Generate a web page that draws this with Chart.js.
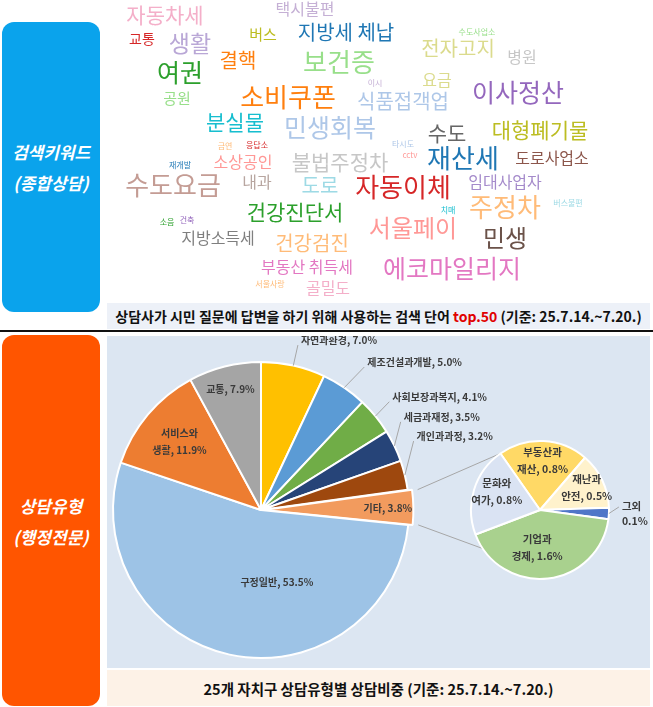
<!DOCTYPE html>
<html>
<head>
<meta charset="utf-8">
<script src="https://cdn.jsdelivr.net/npm/chart.js@4.4.1/dist/chart.umd.min.js"></script>
<style>
html, body { margin: 0; padding: 0; background: #fff; }
body { width: 653px; height: 707px; position: relative; overflow: hidden; font-family: "Noto Sans CJK KR", "Noto Sans", sans-serif; }
.side { position: absolute; left: 2px; width: 98px; border-radius: 12px; color: #fff; display: flex; flex-direction: column; align-items: center; justify-content: center; font-weight: 700; font-style: italic; font-size: 17px; line-height: 31px; }
#sideTop { top: 22px; height: 290px; background: #0AA3EC; }
#sideBottom { top: 335px; height: 371px; background: #FF5500; }
#cloudBox { position: absolute; left: 107px; top: 0; width: 543px; height: 300px; }
.cap { position: absolute; left: 107px; width: 543px; display: flex; align-items: center; justify-content: center; font-weight: 700; color: #111; white-space: nowrap; }
#cap1 { top: 303px; height: 26px; background: #EDF1F8; font-size: 14px; }
#cap1 .red { color: #E00000; }
#rule { position: absolute; left: 0; top: 330px; width: 653px; height: 2px; background: #111; }
#pieBox { position: absolute; left: 107px; top: 336px; width: 543px; height: 332px; background: #DCE6F2; }
#pieBox canvas { position: absolute; }
#mainPie { left: 0; top: 0; }
#subPie { left: 360px; top: 100px; }
#cap2 { top: 670px; height: 36px; background: #FDF2E7; font-size: 14.5px; }
</style>
</head>
<body>
<div id="sideTop" class="side"><div>검색키워드</div><div>(종합상담)</div></div>
<div id="sideBottom" class="side"><div>상담유형</div><div>(행정전문)</div></div>
<div id="cloudBox"><canvas id="cloud" width="543" height="300"></canvas></div>
<div id="cap1" class="cap"><span>상담사가 시민 질문에 답변을 하기 위해 사용하는 검색 단어 <span class="red">top.50</span> (기준: 25.7.14.~7.20.)</span></div>
<div id="rule"></div>
<div id="pieBox">
  <canvas id="mainPie" width="543" height="332"></canvas>
  <canvas id="subPie" width="183" height="150"></canvas>
</div>
<div id="cap2" class="cap">25개 자치구 상담유형별 상담비중 (기준: 25.7.14.~7.20.)</div>

<script>
// word cloud: top 50 search words, weight = relative size, placed where the picture shows them
const cloudWords = ['자동차세', '택시불편', '교통', '생활', '버스', '지방세 체납', '결핵', '보건증', '여권', '공원',
  '소비쿠폰', '이시', '식품접객업', '분실물', '민생회복', '금연', '응답소', '수도사업소', '전자고지', '병원',
  '요금', '이사정산', '대형폐기물', '수도', '타시도', '재개발', '소상공인', '불법주정차', 'cctv', '재산세',
  '도로사업소', '수도요금', '내과', '도로', '자동이체', '임대사업자', '건강진단서', '소음', '건축', '치매',
  '주정차', '버스불편', '지방소득세', '건강검진', '서울페이', '민생', '부동산 취득세', '에코마일리지', '서울사랑', '골밀도'];
const cloudWeights = [21, 16, 14, 23, 15, 20, 20, 26, 25, 15,
  26, 8, 20, 21, 25, 8, 8, 8, 20, 16,
  16, 25, 21, 21, 8, 8, 16, 21, 8, 26,
  16, 26, 16, 20, 26, 16, 21, 8, 8, 8,
  26, 8, 16, 20, 24, 24, 16, 25, 8, 16];
const cloudX = [165, 305, 142, 190, 263, 346, 238, 339, 180, 177,
  288, 375, 403, 235, 330, 225, 257, 477, 458, 522,
  437, 518, 540, 447, 403, 180, 243, 340, 410, 463,
  552, 173, 257, 320, 403, 505, 295, 167, 187, 448,
  505, 568, 218, 312, 413, 505, 307, 452, 270, 328];
const cloudY = [15, 9, 39, 43, 34, 32, 60, 62, 72, 98,
  97, 83, 101, 122, 127, 146, 145, 32, 48, 57,
  80, 92, 130, 133, 144, 165, 162, 162, 155, 158,
  158, 185, 182, 185, 187, 182, 212, 222, 220, 210,
  207, 203, 238, 243, 228, 238, 267, 268, 284, 288];
const cloudColors = ['#F4AFC9', '#C5B0D5', '#D62728', '#B9A7D6', '#BCBD22', '#1F77B4', '#FF7F0E', '#98DF8A', '#2CA02C', '#98DF8A',
  '#FF7F0E', '#C5B0D5', '#AEC7E8', '#17BECF', '#AEC7E8', '#FFBB78', '#D62728', '#98DF8A', '#DBDB8D', '#C7C7C7',
  '#DBDB8D', '#9467BD', '#BCBD22', '#666666', '#AEC7E8', '#1F77B4', '#FF9896', '#C7C7C7', '#FF9896', '#1F77B4',
  '#8C564B', '#C49C94', '#B8A6A0', '#9EDAE5', '#D62728', '#A58BCB', '#2CA02C', '#2CA02C', '#9467BD', '#17BECF',
  '#FFBB78', '#9EDAE5', '#7F7F7F', '#FFBB78', '#FF9896', '#6B5249', '#E377C2', '#E377C2', '#FFBB78', '#F4AFC9'];

// consultation types (main pie), percent
const typeLabels = ['자연과환경', '제조건설과개발', '사회보장과복지', '세금과재정', '개인과과정', '기타', '구정일반', '서비스와 생활', '교통'];
const typeValues = [7.0, 5.0, 4.1, 3.5, 3.2, 3.8, 53.5, 11.9, 7.9];
const typeColors = ['#FFC000', '#5B9BD5', '#70AD47', '#264478', '#9E480E', '#F29B5E', '#9DC3E6', '#ED7D31', '#A5A5A5'];

// breakdown of 기타 (secondary pie), percent
const etcLabels = ['부동산과 재산', '재난과 안전', '그외', '기업과 경제', '문화와 여가'];
const etcValues = [0.8, 0.5, 0.1, 1.6, 0.8];
const etcColors = ['#FFD966', '#FFF2CC', '#4F76C8', '#A9D18E', '#DAE3F3'];

// label placement styles
const typeLabelStyle = [
  { mode: 'out', d: 21, ax: 0, ay: 0 },
  { mode: 'out', d: 25, ax: 6, ay: 0 },
  { mode: 'out', d: 18, ax: 0, ay: -3 },
  { mode: 'out', d: 7, ax: 0, ay: -21 },
  { mode: 'out', d: 9, ax: 0, ay: -32 },
  { mode: 'in', f: 0.79 },
  { mode: 'in', f: 0.5, turn: -0.43 },
  { mode: 'in', f: 0.72, split: true },
  { mode: 'in', f: 0.84 }
];
const etcLabelStyle = [
  { mode: 'in', f: 0.72, split: true },
  { mode: 'in', f: 0.75, split: true },
  { mode: 'out', d: 10, ax: 0, ay: -7, tdy: -1, split: true },
  { mode: 'in', f: 0.54, turn: 0.19, split: true },
  { mode: 'in', f: 0.68, turn: 0.1, split: true }
];

const cloudText = {
  id: 'cloudText',
  afterDatasetsDraw(chart) {
    const ctx = chart.ctx;
    const meta = chart.getDatasetMeta(0);
    ctx.save();
    ctx.textAlign = 'center';
    ctx.textBaseline = 'middle';
    meta.data.forEach((pt, i) => {
      ctx.font = cloudWeights[i] + 'px "Noto Sans CJK KR", sans-serif';
      ctx.fillStyle = cloudColors[i];
      ctx.fillText(cloudWords[i], pt.x, pt.y);
    });
    ctx.restore();
  }
};

new Chart(document.getElementById('cloud'), {
  type: 'scatter',
  data: { datasets: [{ data: cloudX.map((x, i) => ({ x: x, y: cloudY[i] })), pointRadius: 0 }] },
  options: {
    responsive: false,
    animation: false,
    events: [],
    layout: { padding: 0 },
    plugins: { legend: { display: false }, tooltip: { enabled: false } },
    scales: {
      x: { type: 'linear', min: 107, max: 650, display: false },
      y: { type: 'linear', min: 0, max: 300, reverse: true, display: false }
    }
  },
  plugins: [cloudText]
});

function drawSliceLabels(chart, styles, font, offsets, lineGap) {
  const ctx = chart.ctx;
  const meta = chart.getDatasetMeta(0);
  const ds = chart.data.datasets[0];
  ctx.save();
  ctx.font = font;
  ctx.fillStyle = '#3A3A3A';
  ctx.strokeStyle = '#A6A6A6';
  ctx.lineWidth = 1;
  ctx.textBaseline = 'middle';
  meta.data.forEach((arc, i) => {
    const st = styles[i];
    const p = arc.getProps(['x', 'y', 'startAngle', 'endAngle', 'outerRadius']);
    const mid = (p.startAngle + p.endAngle) / 2;
    const off = offsets ? offsets[i] : 0;
    const cx = p.x + Math.cos(mid) * off;
    const cy = p.y + Math.sin(mid) * off;
    const name = chart.data.labels[i];
    const val = ds.data[i].toFixed(1) + '%';
    let lines;
    if (st.split) {
      const k = name.indexOf(' ');
      lines = k > 0 ? [name.slice(0, k), name.slice(k + 1) + ', ' + val] : [name, val];
    } else {
      lines = [name + ', ' + val];
    }
    if (st.mode === 'out') {
      const ex = cx + Math.cos(mid) * p.outerRadius;
      const ey = cy + Math.sin(mid) * p.outerRadius;
      const lx = ex + Math.cos(mid) * st.d + st.ax;
      const ly = ey + Math.sin(mid) * st.d + st.ay;
      ctx.beginPath();
      ctx.moveTo(ex, ey);
      ctx.lineTo(lx, ly);
      ctx.stroke();
      ctx.textAlign = 'left';
      const tdy = st.tdy !== undefined ? st.tdy : -5;
      lines.forEach((t, j) => ctx.fillText(t, lx + 3, ly + tdy + j * 15));
    } else {
      const a = mid + (st.turn || 0);
      const r = p.outerRadius * st.f;
      const tx = cx + Math.cos(a) * r;
      const ty = cy + Math.sin(a) * r;
      ctx.textAlign = 'center';
      const h = (lines.length - 1) * lineGap;
      lines.forEach((t, j) => ctx.fillText(t, tx, ty - h / 2 + j * lineGap));
    }
  });
  ctx.restore();
}

const subChart = new Chart(document.getElementById('subPie'), {
  type: 'pie',
  data: {
    labels: etcLabels,
    datasets: [{ data: etcValues, backgroundColor: etcColors, borderColor: '#fff', borderWidth: 2, hoverOffset: 0 }]
  },
  options: {
    responsive: false,
    animation: false,
    events: [],
    rotation: -35,
    layout: { padding: { left: 3, top: 4, right: 40, bottom: 6 } },
    plugins: { legend: { display: false }, tooltip: { enabled: false } }
  },
  plugins: [{
    id: 'subLabels',
    afterDatasetsDraw(chart) { drawSliceLabels(chart, etcLabelStyle, 'bold 10.5px "Noto Sans CJK KR", sans-serif', null, 17); }
  }]
});

const typeOffsets = typeLabels.map(l => (l === '기타' ? 10 : 0));

new Chart(document.getElementById('mainPie'), {
  type: 'pie',
  data: {
    labels: typeLabels,
    datasets: [{ data: typeValues, backgroundColor: typeColors, borderColor: '#fff', borderWidth: 2, offset: typeOffsets, hoverOffset: 0 }]
  },
  options: {
    responsive: false,
    animation: false,
    events: [],
    layout: { padding: { left: 0, top: 20, right: 235, bottom: 4 } },
    plugins: { legend: { display: false }, tooltip: { enabled: false } }
  },
  plugins: [{
    id: 'mainLabels',
    afterDatasetsDraw(chart) {
      // connector lines from the exploded 기타 slice to the secondary pie
      const ctx = chart.ctx;
      const etcIdx = typeLabels.indexOf('기타');
      const arc = chart.getDatasetMeta(0).data[etcIdx].getProps(['x', 'y', 'startAngle', 'endAngle', 'outerRadius']);
      const mid = (arc.startAngle + arc.endAngle) / 2;
      const ox = arc.x + Math.cos(mid) * typeOffsets[etcIdx];
      const oy = arc.y + Math.sin(mid) * typeOffsets[etcIdx];
      const subCanvas = document.getElementById('subPie');
      const shiftX = subCanvas.offsetLeft - chart.canvas.offsetLeft;
      const shiftY = subCanvas.offsetTop - chart.canvas.offsetTop;
      const s = subChart.getDatasetMeta(0).data[0].getProps(['x', 'y', 'startAngle', 'outerRadius']);
      const scx = s.x + shiftX, scy = s.y + shiftY, sr = s.outerRadius;
      const lowAngle = (236 - 90) * Math.PI / 180;
      ctx.save();
      ctx.strokeStyle = '#A6A6A6';
      ctx.lineWidth = 1;
      ctx.beginPath();
      ctx.moveTo(ox + Math.cos(arc.startAngle) * arc.outerRadius, oy + Math.sin(arc.startAngle) * arc.outerRadius);
      ctx.lineTo(scx + Math.cos(s.startAngle) * sr, scy + Math.sin(s.startAngle) * sr);
      ctx.moveTo(ox + Math.cos(arc.endAngle) * arc.outerRadius, oy + Math.sin(arc.endAngle) * arc.outerRadius);
      ctx.lineTo(scx + Math.cos(lowAngle) * sr, scy + Math.sin(lowAngle) * sr);
      ctx.stroke();
      ctx.restore();
      drawSliceLabels(chart, typeLabelStyle, 'bold 10px "Noto Sans CJK KR", sans-serif', typeOffsets, 17);
    }
  }]
});
</script>
</body>
</html>
